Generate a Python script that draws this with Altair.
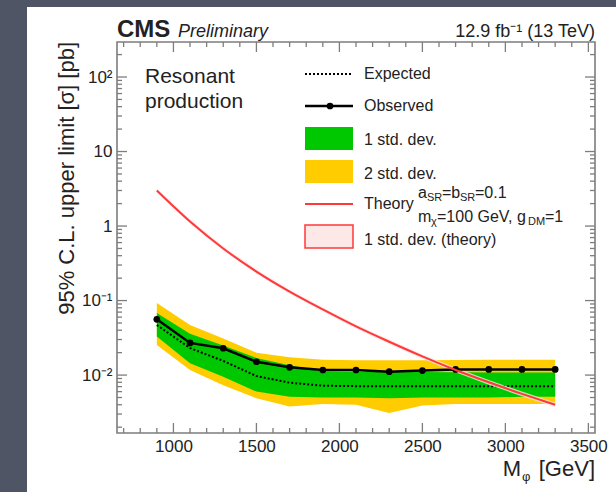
import altair as alt
import pandas as pd

# ---------------- data ----------------
mass = [900, 1100, 1300, 1500, 1700, 1900, 2100, 2300, 2500, 2700, 2900, 3100, 3300]
observed = [0.056, 0.027, 0.0229, 0.0151, 0.0127, 0.0117, 0.0117, 0.0111, 0.0115, 0.0119, 0.0119, 0.0119, 0.0119]
expected = [0.047, 0.023, 0.0155, 0.0097, 0.0079, 0.0072, 0.0071, 0.0071, 0.0071, 0.0071, 0.0071, 0.0071, 0.0071]
one_up = [0.068, 0.036, 0.025, 0.017, 0.0136, 0.0112, 0.0110, 0.0110, 0.0110, 0.0109, 0.0108, 0.0108, 0.0108]
one_dn = [0.033, 0.0144, 0.0095, 0.0060, 0.0051, 0.0050, 0.0050, 0.0049, 0.0050, 0.0050, 0.0050, 0.0051, 0.0051]
two_up = [0.093, 0.047, 0.031, 0.020, 0.0173, 0.0160, 0.0158, 0.0158, 0.0158, 0.0159, 0.0160, 0.0160, 0.0160]
two_dn = [0.0253, 0.0117, 0.0073, 0.0049, 0.0038, 0.0041, 0.0040, 0.0031, 0.0039, 0.0041, 0.0041, 0.0041, 0.0041]
theory = [3.0, 1.15, 0.50, 0.245, 0.132, 0.076, 0.045, 0.028, 0.0178, 0.0117, 0.0080, 0.0056, 0.0040]
theory_up = [3.2, 1.23, 0.535, 0.262, 0.141, 0.081, 0.048, 0.030, 0.0190, 0.0125, 0.0086, 0.0060, 0.0043]
theory_dn = [2.8, 1.07, 0.465, 0.228, 0.123, 0.071, 0.042, 0.026, 0.0166, 0.0109, 0.0074, 0.0052, 0.0037]

x_major_ticks = [1000, 1500, 2000, 2500, 3000, 3500]
x_minor_ticks = [v for v in range(700, 3501, 100) if v % 500 != 0]
y_major_ticks = [0.01, 0.1, 1, 10, 100]
y_minor_ticks = [m * 10.0 ** e for e in range(-3, 3) for m in range(2, 10) if 0.0017 < m * 10.0 ** e < 295]

# ---------------- layout ----------------
W, H = 478, 391
PAD = {"left": 117, "top": 42, "right": 21, "bottom": 59}
FONT = "Liberation Sans"
TXT = "#222222"
GREEN = "#00c800"
YELLOW = "#ffcc00"
RED = "#ff3838"
FRAME = "#7d7d7d"

df = pd.DataFrame({
    "mass": mass, "observed": observed, "expected": expected,
    "one_up": one_up, "one_dn": one_dn, "two_up": two_up, "two_dn": two_dn,
    "theory": theory, "theory_up": theory_up, "theory_dn": theory_dn,
})

xscale = alt.Scale(type="linear", domain=[660, 3540], nice=False, zero=False)
yscale = alt.Scale(type="log", domain=[0.00167, 295], nice=False)

xaxis = alt.Axis(values=x_major_ticks, ticks=False, domain=False, grid=False, title=None, zindex=2,
                 labelFont=FONT, labelFontSize=17, labelColor=TXT, labelPadding=5, format="d")
yaxis = alt.Axis(values=y_major_ticks, ticks=False, domain=False, grid=False, title=None, zindex=2,
                 labelFont=FONT, labelFontSize=17, labelColor=TXT, labelPadding=5,
                 labelExpr="datum.value >= 50 ? '10²' : datum.value >= 5 ? '10' : datum.value >= 0.5 ? '1' : datum.value >= 0.05 ? '10⁻¹' : '10⁻²'")


def X(f):
    return alt.X(f, type="quantitative", scale=xscale, axis=xaxis)


def Y(f):
    return alt.Y(f, type="quantitative", scale=yscale, axis=yaxis)


def Y2(f):
    return alt.Y2(f)


one = pd.DataFrame({"k": [0]})


def txt(s, x, y, size, align="left", baseline="middle", weight="normal", style="normal", angle=None, color=TXT):
    props = dict(align=align, baseline=baseline, fontSize=size, font=FONT, color=color,
                 fontWeight=weight, fontStyle=style)
    if angle is not None:
        props["angle"] = angle
    return alt.Chart(pd.DataFrame({"t": [s]})).mark_text(**props).encode(
        x=alt.value(x), y=alt.value(y), text="t:N")


def box(x1, x2, y1, y2, **kw):
    return alt.Chart(one).mark_rect(**kw).encode(
        x=alt.value(x1), x2=alt.value(x2), y=alt.value(y1), y2=alt.value(y2))


def hline(x1, x2, y, **kw):
    return alt.Chart(one).mark_rule(**kw).encode(
        x=alt.value(x1), x2=alt.value(x2), y=alt.value(y))


base = alt.Chart(df)

layers = []
# white panel over the dark page background
layers.append(box(-90, W + 30, -35, H + 70, color="white"))

# bands and lines
layers.append(base.mark_area(color=YELLOW).encode(x=X("mass"), y=Y("two_up"), y2=Y2("two_dn")))
layers.append(base.mark_area(color=GREEN).encode(x=X("mass"), y=Y("one_up"), y2=Y2("one_dn")))
layers.append(base.mark_line(color="black", strokeWidth=2, strokeDash=[2, 2]).encode(x=X("mass"), y=Y("expected")))
layers.append(base.mark_area(color="#fde3e3", opacity=0.8).encode(x=X("mass"), y=Y("theory_up"), y2=Y2("theory_dn")))
layers.append(base.mark_line(color="black", strokeWidth=2.5).encode(x=X("mass"), y=Y("observed")))
layers.append(base.mark_point(color="black", filled=True, size=45, opacity=1).encode(x=X("mass"), y=Y("observed")))
layers.append(base.mark_line(color=RED, strokeWidth=2, interpolate="monotone").encode(x=X("mass"), y=Y("theory")))

# ticks (inward, all four sides)
dxM = pd.DataFrame({"v": x_major_ticks})
dxm = pd.DataFrame({"v": x_minor_ticks})
dyM = pd.DataFrame({"v": y_major_ticks})
dym = pd.DataFrame({"v": y_minor_ticks})
tk = dict(color=FRAME, strokeWidth=1.3)
layers.append(alt.Chart(dxM).mark_rule(**tk).encode(x=X("v"), y=alt.value(H), y2=alt.value(H - 10)))
layers.append(alt.Chart(dxm).mark_rule(**tk).encode(x=X("v"), y=alt.value(H), y2=alt.value(H - 5)))
layers.append(alt.Chart(dxM).mark_rule(**tk).encode(x=X("v"), y=alt.value(0), y2=alt.value(10)))
layers.append(alt.Chart(dxm).mark_rule(**tk).encode(x=X("v"), y=alt.value(0), y2=alt.value(5)))
layers.append(alt.Chart(dyM).mark_rule(**tk).encode(y=Y("v"), x=alt.value(0), x2=alt.value(10)))
layers.append(alt.Chart(dym).mark_rule(**tk).encode(y=Y("v"), x=alt.value(0), x2=alt.value(5)))
layers.append(alt.Chart(dyM).mark_rule(**tk).encode(y=Y("v"), x=alt.value(W), x2=alt.value(W - 10)))
layers.append(alt.Chart(dym).mark_rule(**tk).encode(y=Y("v"), x=alt.value(W), x2=alt.value(W - 5)))

# frame
layers.append(box(0, W, 0, H, filled=False, stroke=FRAME, strokeWidth=1.6))

# header
layers.append(txt("CMS", 0, -5, 24, baseline="alphabetic", weight="bold"))
layers.append(txt("Preliminary", 61, -5, 18, baseline="alphabetic", style="italic"))
layers.append(txt("12.9 fb⁻¹ (13 TeV)", W, -5, 18, align="right", baseline="alphabetic"))

# axis titles
layers.append(txt("95% C.L. upper limit [σ] [pb]", -50, 0, 22, align="right", angle=270))
layers.append(txt("M", 404, 434, 22, align="right", baseline="alphabetic"))
layers.append(txt("φ", 405, 439, 13, baseline="alphabetic"))
layers.append(txt("[GeV]", W, 434, 22, align="right", baseline="alphabetic"))

# in-plot label
layers.append(txt("Resonant", 28, 41, 21, baseline="alphabetic"))
layers.append(txt("production", 28, 66, 21, baseline="alphabetic"))

# legend
LX1, LX2, TX = 188, 236, 247
layers.append(hline(LX1, LX2, 32, color="black", strokeWidth=2, strokeDash=[2, 2]))
layers.append(txt("Expected", TX, 32, 16))
layers.append(hline(LX1, LX2, 64, color="black", strokeWidth=2.5))
layers.append(alt.Chart(one).mark_point(color="black", filled=True, size=45, opacity=1).encode(
    x=alt.value(213), y=alt.value(64)))
layers.append(txt("Observed", TX, 64, 16))
layers.append(box(LX1, LX2, 85, 108, color=GREEN))
layers.append(txt("1 std. dev.", TX, 98, 16))
layers.append(box(LX1, LX2, 118, 141, color=YELLOW))
layers.append(txt("2 std. dev.", TX, 132, 16))
layers.append(hline(LX1, LX2, 162, color=RED, strokeWidth=2))
layers.append(txt("Theory", TX, 162, 16))
# a_SR = b_SR = 0.1
layers.append(txt("a", 301, 151, 16))
layers.append(txt("SR", 310, 156, 11))
layers.append(txt("=b", 325, 151, 16))
layers.append(txt("SR", 343, 156, 11))
layers.append(txt("=0.1", 358, 151, 16))
# m_chi = 100 GeV, g_DM = 1
layers.append(txt("m", 301, 175, 16))
layers.append(txt("χ", 314, 180, 11))
layers.append(txt("=100 GeV, g", 320, 175, 16))
layers.append(txt("DM", 411, 180, 11))
layers.append(txt("=1", 428, 175, 16))
layers.append(box(LX1, LX2, 183, 206, fill="#fde8e8", stroke=RED, strokeWidth=1.5))
layers.append(txt("1 std. dev. (theory)", TX, 198, 16))

chart = alt.layer(*layers).properties(
    width=W, height=H,
    padding=PAD,
    autosize=alt.AutoSizeParams(type="none"),
    background="#4f5565",
).configure_view(strokeWidth=0)

chart.save("out.html", embed_options={"renderer": "svg", "actions": False})
